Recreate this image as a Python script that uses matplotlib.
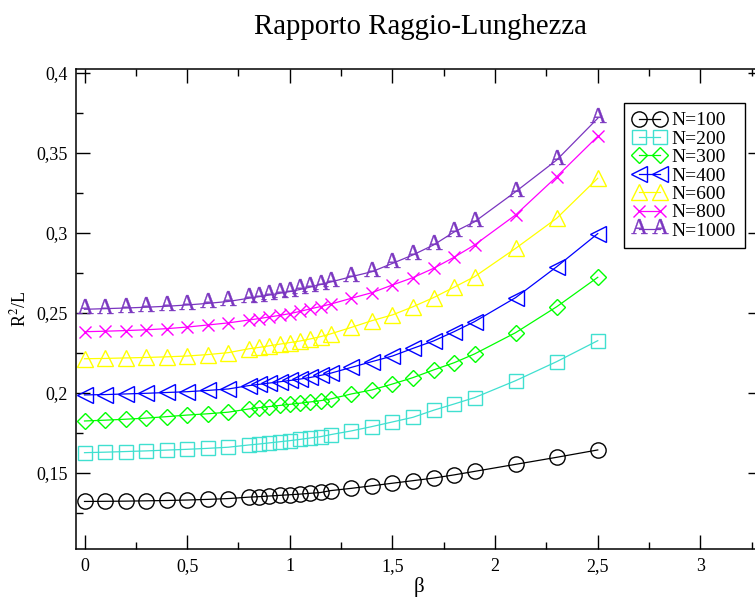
import matplotlib
matplotlib.use("Agg")
import matplotlib.pyplot as plt
from matplotlib.ticker import MultipleLocator, FuncFormatter
from matplotlib.textpath import TextPath
from matplotlib.font_manager import FontProperties
from matplotlib.path import Path

plt.rcParams['font.family'] = ['Liberation Serif', 'DejaVu Serif']
plt.rcParams['mathtext.fontset'] = 'stix'

beta = [0, 0.1, 0.2, 0.3, 0.4, 0.5, 0.6, 0.7, 0.8, 0.85, 0.9, 0.95, 1.0, 1.05,
        1.1, 1.15, 1.2, 1.3, 1.4, 1.5, 1.6, 1.7, 1.8, 1.9, 2.1, 2.3, 2.5]

n100 = [0.1322, 0.1323, 0.1324, 0.1326, 0.1328, 0.1331, 0.1335, 0.1340, 0.1349,
        0.1352, 0.1356, 0.1360, 0.1364, 0.1368, 0.1373, 0.1378, 0.1390, 0.1404,
        0.1420, 0.1436, 0.1452, 0.1468, 0.1488, 0.1510, 0.1554, 0.1598, 0.1644]
n200 = [0.1627, 0.1630, 0.1634, 0.1638, 0.1643, 0.1648, 0.1654, 0.1661, 0.1675,
        0.1681, 0.1688, 0.1695, 0.1702, 0.1710, 0.1719, 0.1727, 0.1740, 0.1763,
        0.1790, 0.1819, 0.1848, 0.1892, 0.1931, 0.1971, 0.2077, 0.2196, 0.2327]
n300 = [0.1825, 0.1830, 0.1836, 0.1843, 0.1852, 0.1862, 0.1870, 0.1880, 0.1900,
        0.1908, 0.1915, 0.1922, 0.1929, 0.1936, 0.1944, 0.1952, 0.1963, 0.1994,
        0.2019, 0.2056, 0.2096, 0.2144, 0.2189, 0.2244, 0.2377, 0.2539, 0.2723]
n400 = [0.1988, 0.1990, 0.1994, 0.1998, 0.2003, 0.2008, 0.2016, 0.2025, 0.2046,
        0.2054, 0.2062, 0.2070, 0.2078, 0.2087, 0.2097, 0.2110, 0.2124, 0.2160,
        0.2196, 0.2231, 0.2279, 0.2325, 0.2383, 0.2446, 0.2596, 0.2789, 0.2996]
n600 = [0.2214, 0.2216, 0.2219, 0.2222, 0.2226, 0.2231, 0.2240, 0.2252, 0.2276,
        0.2285, 0.2295, 0.2305, 0.2315, 0.2325, 0.2338, 0.2352, 0.2370, 0.2410,
        0.2452, 0.2488, 0.2539, 0.2596, 0.2661, 0.2727, 0.2904, 0.3092, 0.3342]
n800 = [0.2383, 0.2386, 0.2390, 0.2395, 0.2402, 0.2412, 0.2425, 0.2438, 0.2456,
        0.2465, 0.2475, 0.2485, 0.2496, 0.2510, 0.2526, 0.2540, 0.2556, 0.2592,
        0.2627, 0.2675, 0.2721, 0.2779, 0.2848, 0.2925, 0.3113, 0.3352, 0.3604]
n1000 = [0.2523, 0.2527, 0.2531, 0.2536, 0.2542, 0.2550, 0.2560, 0.2572, 0.2592,
         0.2602, 0.2612, 0.2623, 0.2634, 0.2647, 0.2662, 0.2678, 0.2694, 0.2727,
         0.2758, 0.2810, 0.2863, 0.2925, 0.3006, 0.3070, 0.3258, 0.3456, 0.3717]

labels = ['N=100', 'N=200', 'N=300', 'N=400', 'N=600', 'N=800', 'N=1000']
series = [n100, n200, n300, n400, n600, n800, n1000]
colors = ['black', '#40E0D0', '#00FF00', '#0000FF', '#FFFF00', '#FF00FF', '#7A35C0']

# letter "A" marker like grace's char symbol, point sits low in the glyph
tp = TextPath((0, 0), 'A', size=1, prop=FontProperties(family='Liberation Serif'))
ext = tp.get_extents()
verts = tp.vertices.copy()
verts[:, 0] -= (ext.x0 + ext.x1) / 2
verts[:, 1] -= ext.y0 + 0.3 * (ext.y1 - ext.y0)
a_marker = Path(verts, tp.codes)

markers = ['o', 's', 'D', '<', '^', 'x', a_marker]
msizes = [11, 9.5, 8.5, 11, 11, 8.5, 15]

fig = plt.figure(figsize=(7.55, 6.03), dpi=100)
ax = fig.add_axes([76.3 / 755, 1 - 549.3 / 603, (762 - 76.3) / 755, (549.3 - 69.3) / 603])

for y, lab, c, m, ms in zip(series, labels, colors, markers, msizes):
    if lab == 'N=1000':
        ax.plot(beta, y, color=c, lw=0.9, marker=m, ms=ms, mfc=c, mec=c,
                mew=0.3, label=lab)
    else:
        ax.plot(beta, y, color=c, lw=0.9, marker=m, ms=ms, mfc='none', mec=c,
                mew=1.0, label=lab)

ax.set_xlim(-0.04, 3.3)
ax.set_ylim(0.1023, 0.4023)
ax.xaxis.set_major_locator(MultipleLocator(0.5))
ax.xaxis.set_minor_locator(MultipleLocator(0.25))
ax.yaxis.set_major_locator(MultipleLocator(0.05))
ax.yaxis.set_minor_locator(MultipleLocator(0.025))
fmt = FuncFormatter(lambda v, p: f"{v:g}".replace('.', ','))
ax.xaxis.set_major_formatter(fmt)
ax.yaxis.set_major_formatter(fmt)
ax.tick_params(which='both', direction='in', top=True, right=True, width=1.0,
               labelsize=13)
ax.tick_params(which='major', length=10, pad=6)
ax.tick_params(which='minor', length=5)
for s in ax.spines.values():
    s.set_linewidth(1.1)

ax.set_xlabel('β', fontsize=15, labelpad=2)
ax.set_ylabel(r'R$^2$/L', fontsize=13)
ax.yaxis.set_label_coords(-0.068, 0.5)

fig.text(420 / 755, 1 - 34 / 603, 'Rapporto Raggio-Lunghezza', fontsize=20.7,
         ha='center', va='baseline')

leg = ax.legend(loc='upper left', bbox_to_anchor=(624 / 755, 1 - 103 / 603),
                bbox_transform=fig.transFigure, borderaxespad=0, fontsize=14,
                numpoints=2, handlelength=1.7, handletextpad=0.3,
                labelspacing=0.04, borderpad=0.45, fancybox=False,
                edgecolor='black', framealpha=1)
leg.get_frame().set_linewidth(1.0)

fig.savefig('out.png', dpi=100)
